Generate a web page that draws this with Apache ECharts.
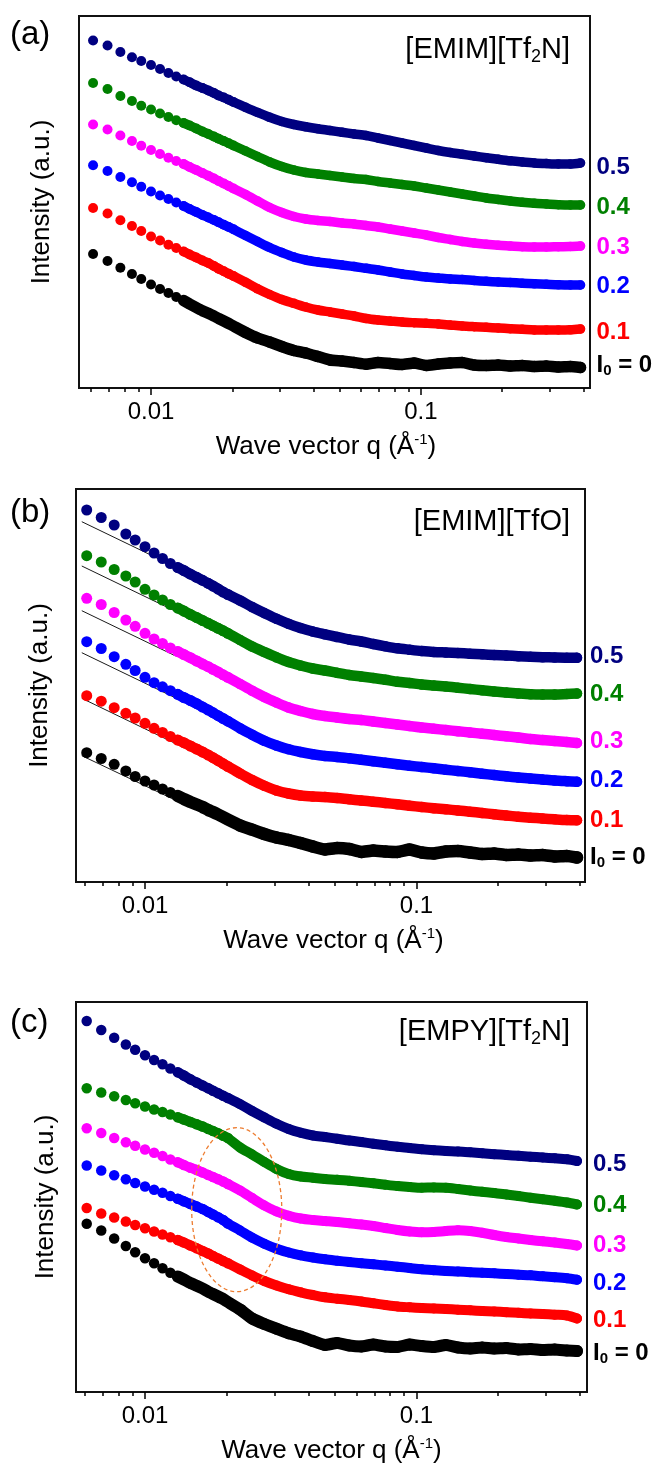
<!DOCTYPE html>
<html>
<head>
<meta charset="utf-8">
<script src="https://cdn.jsdelivr.net/npm/echarts@6/dist/echarts.min.js"></script>
<style>
html,body{margin:0;padding:0;background:#fff;}
#chart{width:656px;height:1471px;}
</style>
</head>
<body>
<div id="chart"></div>
<script>
// ---------------- DATA ----------------
// Wave vector q (1/Å) shared by all curves
const Q = [0.0061,0.0069,0.0077,0.0085,0.0092,0.0100,0.0108,0.0116,0.0124,0.0132,0.0139,0.0147,0.0155,0.0163,0.0171,0.0178,0.0186,0.0194,0.0202,
0.0224,0.0248,0.0275,0.0305,0.0338,0.0374,0.0415,0.046,0.051,0.0565,0.0626,0.0693,0.0768,0.0851,0.0943,0.1045,0.1158,0.1283,0.1421,0.1575,0.1745,0.1933,0.2142,0.2373,0.263,0.2914,0.3229,0.3578,0.39];

const CURVE_LABELS = ['I0 = 0','0.1','0.2','0.3','0.4','0.5'];
const MAJOR_TICKS = [0.01, 0.1];
const MINOR_TICKS = [0.006,0.007,0.008,0.009,0.02,0.03,0.04,0.05,0.06,0.07,0.08,0.09,0.2,0.3,0.4];

// Panel (a) [EMIM][Tf2N]  (intensity, arbitrary offset units)
const A_I0 = [134,127,120.3,114,109,103.5,99,95,91,87.5,84,80.5,77.3,74.7,72,69.5,67,64.5,62,55.5,50,46,41.5,37.5,35,31.5,28,27,25.5,23.7,25.5,24.5,23.5,25,22.5,24,25,25.5,23,22.5,23,22,22.5,21.5,22,21,21.5,20.5];
const A_01 = [180,174.5,167.7,162,157,151.5,147.5,143.3,140,136.5,133.5,130.5,127.5,125,122,119.3,116.8,114.3,112,105.7,99.2,93.5,88.5,84.7,81,78,76,74,72,69.5,68,67,66,65.3,64.7,64,63,62,61.3,60.7,60,59.3,58.7,58,58,58,58.2,59];
const A_02 = [222.7,217,211,205.8,201.3,196.5,192.5,189,185.5,182,179,176,173,170.5,168,165.7,163.3,161,158.7,152.5,146.5,140.5,135.5,131,128,126,124.5,123,121.5,119.7,118,116,114,112.5,111,110,109,108.5,107.5,106.7,106,105.5,104.8,104.2,103.7,103.2,103,103];
const A_03 = [263.5,258.5,252.5,247,242.3,238,234,230.3,227,224,221,218,215,212.3,209.5,207,204.5,202,199.5,193.5,187,180.5,175.5,171.5,169,167.5,166.5,165,164,162.5,161,159,157,155,153,150.5,148.5,146.5,145,143.7,142.7,142,141.3,141,141,141.3,141.5,142];
const A_04 = [305,299,292,287,282.3,278.5,274.5,271,267.7,265,262.5,259.5,256.5,254,251.5,249.2,247,244.8,242.5,237,231.5,226,221.5,218,215.5,214,212.5,211,209.5,208.5,206.5,205,203.5,202,200,198,196,194,192,190,188.5,187,185.7,184.7,184,183.3,183,183];
const A_05 = [347.5,342.5,336,330.7,327,323,319,315,311.5,308.5,305.8,302.5,300,297.5,295,292.5,290.5,288.2,286,280.7,275.6,270.7,266.5,263.5,261.2,259.2,257.5,255.7,254,252.5,250,247.5,245,242.5,240,237.5,235.5,233.8,232,230.3,228.7,227.2,226,225,224.4,224,224,225];

// Panel (b) [EMIM][TfO]
const B_I0 = [129.3,123.5,117.7,111,105.5,101,97,93,89.5,86,83,80,77.5,75,72,70,67.5,65,62.5,56.5,52.3,48,44.5,42,39,35.5,32.5,34,33,30,31.5,30.5,30,32.5,29.5,28.5,30.5,31,29.5,28,28.5,27,27.5,26.5,27,25.5,26,24.5];
const B_01 = [186.3,180.8,174.3,168.7,164,158.7,153.7,149.5,145.5,142,139.3,136,133,130,127,124.3,121.3,118.3,115.5,108.5,102,96.2,91.5,88.5,86.5,85.5,85,84,82.7,81.5,80.3,79,77.7,76.3,75,73.8,72.7,71.5,70.3,69,67.7,66.5,65.3,64.3,63.5,62.7,62,61.7];
const B_02 = [240.3,233.5,225.3,217.7,211.5,204.7,199.3,195.2,191.3,187.7,184.5,181.5,178.3,175,172,169.3,166.3,163.5,160.8,153.7,147.3,141.3,136.5,132.7,130,127.7,126,125,123.7,122.3,120.7,119.3,117.7,116.3,115,113.7,112.3,111,109.7,108.3,107,105.7,104.5,103.5,102.5,101.5,100.8,100.3];
const B_03 = [283.7,277.5,269.5,262,255.7,248.7,243,238.5,234,230.5,227.5,224.3,221,218,215.3,212.7,210,207.2,204.7,198,191.3,185,179.5,174.5,171,168,166,164.5,163,162,160.5,159,157.5,156,154.5,153.3,152,150.8,149.5,148.3,147,145.7,144.5,143,142,141,140,139];
const B_04 = [326.3,320,312.5,306,300,292.7,287,282,277.5,274,271,267.5,264.5,261.5,258.7,256.3,253.7,251.2,248.7,242,235.5,230,224.7,220,216.5,213.5,211.5,209.2,207,205.5,204,202.3,200.3,199,197.5,196.5,195.5,194.3,193,191.8,190.5,189.5,188.5,187.7,187.5,187.5,188,188.5];
const B_05 = [372,364.5,357,348,342,335.3,329,323.5,318.5,314.5,311.5,307.8,304.7,301.7,298.7,296,293,290,287.5,281.5,275,269,263.2,258.2,254,250.5,247.7,245,242.5,240.5,238,235.7,233.7,232.3,231,230,229.5,229,228.3,227.7,227,226.5,225.8,225.3,224.8,224.5,224.3,224.3];
// power-law guide lines in (b): q range and intensity at both ends
const B_FIT_Q = [0.00585, 0.0129];
const B_FIT_I0 = [126.3, 82];
const B_FIT_01 = [183.7, 138.7];
const B_FIT_02 = [229.3, 184.3];
const B_FIT_03 = [271.3, 226.3];
const B_FIT_04 = [316, 271];
const B_FIT_05 = [360.3, 315.3];

// Panel (c) [EMPY][Tf2N]
const C_I0 = [168.3,161.5,153.5,146,139.7,133.7,128.7,123.7,119.2,115.5,112.5,109,106.3,103.5,100.3,98,95.5,93,90,82.5,73.5,68,63.3,58.7,55.5,51,47,49,46.5,45.5,47.5,45.5,45,47.5,46,45,47,44.5,43.5,44.5,43.5,44,42.5,43,42,42.5,41.5,41];
const C_01 = [184,178.5,174.5,170.5,167,163.7,160.5,157.5,154.7,152,149.5,146.5,143.7,141,138.5,136,133.5,131,128.7,122.5,116.5,111,106.5,102.7,99.7,97,94.7,93.3,92,90.5,88.7,87,85.5,84.7,84,83.5,83,82.3,81.7,81,80.5,79.8,79.2,78.5,78,77.3,76.5,73.5];
const C_02 = [226.5,221.5,216.7,212.7,209,205.5,202.3,199.3,196,193.3,190.7,188,185.5,183,180,177.5,174.7,172,168.5,161.5,154.3,148.3,143.3,139.5,136.7,134.5,132.7,131.3,130,128.8,127.7,126.5,125.3,124,122.7,121.8,121,120.5,119.8,119.2,118.7,118,117.3,116.7,115.7,114.8,113.7,112.3];
const C_03 = [263.8,259,254,249.8,246.2,242.5,239.3,236,232.5,229.7,227,224.3,222,219.5,217,215,212.7,210.5,208,201.5,194,186.5,180.5,176.3,173.5,172,171,170,168.7,167.5,166,164,162,160.5,159.7,160,161,161.7,161,159.3,157,155,153.5,152,150.7,149.5,148,146.5];
const C_04 = [303.7,299.5,295.7,292,288.7,285.5,282.5,280,277.5,274.7,272.5,270,267.7,265.5,263,261,258.7,256.3,254,244.5,237.5,230,223,218,215.5,214.3,213,212.3,211.2,210,208.7,207.3,206,205,204.3,204.5,204.3,203,201.5,200.2,199,197.5,196,194.3,192.7,191.2,189.5,187.5];
const C_05 = [371,362,354.3,347.5,342.3,336.7,332,327.7,323.5,319.7,316.5,312.7,309.5,306.5,303.7,301.3,298.7,296.3,294,287.8,281,274.5,268.2,263,259.3,256.5,255,253.3,251.5,250,248.3,246.7,245.2,244,242.7,241.7,241,240.5,239.7,238.8,237.8,237,236.2,235.3,234.5,233.7,232.7,231];
// highlighted region (dashed ellipse) in (c): q extent and intensity extent
const C_ELLIPSE_Q = [0.01486, 0.0319];
const C_ELLIPSE_I = [100.3, 264.3];

// ---------------- STYLE / LAYOUT ----------------
const FONT = '"Liberation Sans", Arial, Helvetica, sans-serif';
const COLORS = ['#000000','#ff0000','#0000ff','#ff00ff','#008000','#000080'];

const PANELS = [
  {curves:[A_I0,A_01,A_02,A_03,A_04,A_05], fits:null,
   left:79, top:16, width:511, height:372, xMin:0.00541, xMax:0.423, dot:10, band:9.5,
   tag:'(a)', tagY:35, title:'{n|[EMIM][Tf}{s|2}{n|N]}', titleY:50,
   ytGap:24, xtPad:[0,17,0,0], labelGap:16, labelDy:[-2.5,3.5,1.5,1.5,2.5,4.5]},
  {curves:[B_I0,B_01,B_02,B_03,B_04,B_05], fits:[B_FIT_I0,B_FIT_01,B_FIT_02,B_FIT_03,B_FIT_04,B_FIT_05],
   left:76, top:489, width:509, height:393, xMin:0.00557, xMax:0.4175, dot:11, band:10.5,
   tag:'(b)', tagY:513, title:'{n|[EMIM][TfO]}', titleY:522,
   ytGap:23, xtPad:[0,0,0,6], labelGap:13, labelDy:[0,0.5,-1,-2,0.7,-1]},
  {curves:[C_I0,C_01,C_02,C_03,C_04,C_05], fits:null,
   left:76, top:1002, width:511, height:390, xMin:0.00557, xMax:0.4246, dot:10.5, band:10,
   tag:'(c)', tagY:1023, title:'{n|[EMPY][Tf}{s|2}{n|N]}', titleY:1032,
   ytGap:17, xtPad:[0,0,0,0], labelGap:16, labelDy:[2,1.5,3.5,0,0.5,3]}
];
const DISCRETE_POINTS = 19;   // points drawn as separate dots before they merge into a band

// ---------------- BUILD ----------------
const chart = echarts.init(document.getElementById('chart'), null, {renderer:'canvas', width:656, height:1471});

const grid = [], xAxis = [], yAxis = [], series = [];
const lastRef = [];

PANELS.forEach((P, p) => {
  grid.push({left:P.left, top:P.top, width:P.width, height:P.height, show:true,
    borderColor:'#111', borderWidth:2, backgroundColor:'rgba(0,0,0,0)'});
  xAxis.push({
    type:'log', logBase:10, gridIndex:p, min:P.xMin, max:P.xMax, position:'bottom',
    axisLine:{show:false}, splitLine:{show:false},
    axisTick:{show:true, inside:false, length:7, customValues:MAJOR_TICKS, lineStyle:{color:'#000', width:1.5}},
    axisLabel:{show:true, customValues:MAJOR_TICKS, margin:12, fontSize:24, color:'#000', fontFamily:FONT,
      formatter: v => String(+(+v).toPrecision(6))},
    name:'{n|Wave vector q (Å}{s|-1}{n|)}', nameLocation:'middle', nameGap:44,
    nameTextStyle:{padding:P.xtPad, rich:{
      n:{fontSize:26, fontFamily:FONT, color:'#000', lineHeight:30},
      s:{fontSize:15, fontFamily:FONT, color:'#000', lineHeight:15, padding:[0,0,14,0]}
    }}
  });
  xAxis.push({
    type:'log', logBase:10, gridIndex:p, min:P.xMin, max:P.xMax, position:'bottom',
    axisLine:{show:false}, splitLine:{show:false}, axisLabel:{show:false},
    axisTick:{show:true, inside:false, length:4, customValues:MINOR_TICKS, lineStyle:{color:'#000', width:1.5}}
  });
  yAxis.push({
    type:'value', gridIndex:p, min:0, max:P.height,
    axisLine:{show:false}, axisTick:{show:false}, axisLabel:{show:false}, splitLine:{show:false},
    name:'Intensity (a.u.)', nameLocation:'middle', nameRotate:90, nameGap:P.ytGap,
    nameTextStyle:{fontSize:26, fontFamily:FONT, color:'#000'}
  });

  if (P.fits) {
    P.fits.forEach(f => {
      series.push({type:'line', xAxisIndex:2*p, yAxisIndex:p, z:1, silent:true, symbol:'none',
        data:[[B_FIT_Q[0], f[0]], [B_FIT_Q[1], f[1]]],
        lineStyle:{color:'#1a1a1a', width:1}});
    });
  }

  lastRef.push([]);
  P.curves.forEach((vals, c) => {
    const pts = Q.map((qq, i) => [qq, vals[i]]);
    const col = COLORS[c];
    const bandW = c === 0 ? P.band + 2 : P.band;
    series.push({type:'line', xAxisIndex:2*p, yAxisIndex:p, z:2, silent:true,
      data: pts.slice(9), symbol:'none', showSymbol:false,
      smooth: c === 0 ? 0.1 : 0.3,
      lineStyle:{color:col, width:bandW, cap:'round', join:'round'}});
    series.push({type:'scatter', xAxisIndex:2*p, yAxisIndex:p, z:3, silent:true,
      data: pts, symbol:'circle',
      symbolSize: (val, params) => params.dataIndex < DISCRETE_POINTS ? P.dot : bandW,
      itemStyle:{color:col, opacity:1}});
    lastRef[p].push(series.length - 1);
  });
});

chart.setOption({
  animation:false,
  backgroundColor:'#ffffff',
  grid, xAxis, yAxis, series
});

// ---------------- ANNOTATIONS ----------------
const graphics = [];
PANELS.forEach((P, p) => {
  graphics.push({type:'text', x:10, y:P.tagY, silent:true,
    style:{text:P.tag, fontSize:33, fontFamily:FONT, fill:'#000', align:'left', verticalAlign:'middle'}});
  graphics.push({type:'text', x:570, y:P.titleY, silent:true,
    style:{text:P.title, fontSize:29, fontFamily:FONT, fill:'#000', align:'right', verticalAlign:'middle',
      rich:{
        n:{fontSize:29, fontFamily:FONT, fill:'#000', lineHeight:32},
        s:{fontSize:18, fontFamily:FONT, fill:'#000', lineHeight:18, padding:[14,0,0,0]}
      }}});
  P.curves.forEach((vals, c) => {
    const pt = chart.convertToPixel({seriesIndex:lastRef[p][c]}, [Q[Q.length-1], vals[vals.length-1]]);
    const lbl = CURVE_LABELS[c];
    const txt = c === 0 ? '{n|I}{s|0}{n|' + lbl.slice(2) + '}' : '{n|' + lbl + '}';
    graphics.push({type:'text', x:pt[0] + P.labelGap, y:pt[1] + P.labelDy[c], silent:true,
      style:{text:txt, fontSize:24, fontWeight:'bold', fontFamily:FONT, fill:COLORS[c], align:'left', verticalAlign:'middle',
        rich:{
          n:{fontSize:24, fontWeight:'bold', fontFamily:FONT, fill:COLORS[c], lineHeight:26},
          s:{fontSize:15, fontWeight:'bold', fontFamily:FONT, fill:COLORS[c], lineHeight:15, padding:[11,0,0,0]}
        }}});
  });
});

// dashed ellipse in panel (c)
(function(){
  const ref = lastRef[2][0];
  const p1 = chart.convertToPixel({seriesIndex:ref}, [C_ELLIPSE_Q[0], C_ELLIPSE_I[0]]);
  const p2 = chart.convertToPixel({seriesIndex:ref}, [C_ELLIPSE_Q[1], C_ELLIPSE_I[1]]);
  graphics.push({type:'ellipse', silent:true, z:100,
    shape:{cx:(p1[0]+p2[0])/2, cy:(p1[1]+p2[1])/2, rx:Math.abs(p2[0]-p1[0])/2, ry:Math.abs(p2[1]-p1[1])/2},
    style:{fill:'none', stroke:'#ed7d31', lineWidth:1.3, lineDash:[4,3]}});
})();

chart.setOption({graphic: graphics});
</script>
</body>
</html>
